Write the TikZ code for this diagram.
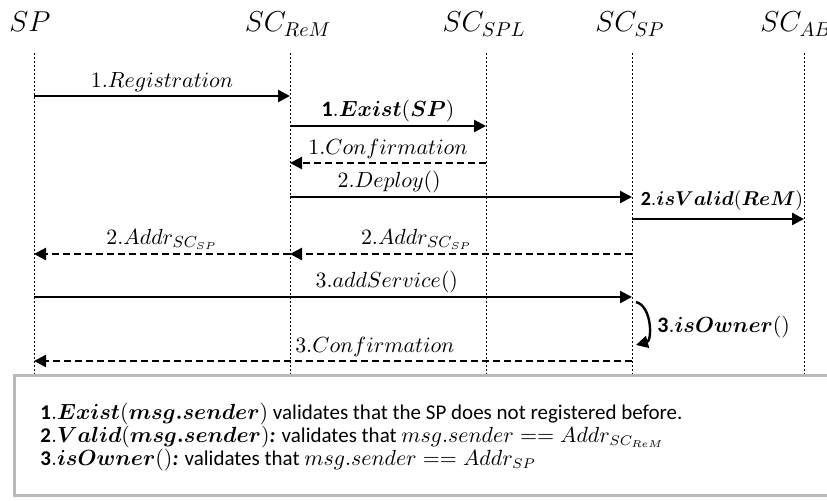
\documentclass[tikz,border=0pt]{standalone}
\usepackage{amsmath}
\usepackage{bm}
\usepackage{fontspec}
\setmainfont{Carlito}
\usetikzlibrary{arrows.meta,positioning}

\begin{document}
\begin{tikzpicture}[x=0.5pt,y=-0.5pt]
\tikzstyle{obj} = [font=\Large, inner sep=1pt]
\tikzstyle{life} = [line width=0.4pt, dash pattern=on 1pt off 1pt]
\tikzstyle{call} = [line width=1.2pt, -{Triangle[length=6pt,width=6pt]}]
\tikzstyle{reply} = [call, dash pattern=on 3.5pt off 2pt]
\tikzstyle{lbl} = [above, inner sep=1.5pt, font=\fontsize{11}{13}\selectfont]
\tikzstyle{rule} = [anchor=west, inner sep=0pt, font=\fontsize{10.5}{12}\selectfont]
\useasboundingbox (0,0) rectangle (827,500);

\node [obj] (sp) at (30,22) {$SP$};
\node [obj] (rem) at (288,24) {$SC_{ReM}$};
\node [obj] (spl) at (484,24) {$SC_{SPL}$};
\node [obj] (ssp) at (630,24) {$SC_{SP}$};
\node [obj] (ab) at (796,24) {$SC_{AB}$};
\coordinate (spl0) at (34,0);
\coordinate (reml) at (290,0);
\coordinate (spll) at (486,0);
\coordinate (sspl) at (632,0);
\coordinate (abl) at (804,0);
\coordinate (top) at (0,53);
\coordinate (bot) at (0,380);
\foreach \o in {spl0,reml,spll,sspl,abl}
  \draw [life] (\o |- top) -- (\o |- bot);

\coordinate (y1) at (0,96);
\coordinate (y2) at (0,126);
\coordinate (y3) at (0,163);
\coordinate (y4) at (0,197);
\coordinate (y5) at (0,219);
\coordinate (y6) at (0,254);
\coordinate (y7) at (0,297);
\coordinate (y8) at (0,345);
\coordinate (y9) at (0,361);

\draw [call] (spl0 |- y1) -- node [lbl] (reg) {$1.Registration$} (reml |- y1);
\draw [call] (reml |- y2) -- node [lbl] (exist) {$\mathbf{1}.\bm{Exist}(\bm{SP})$} (spll |- y2);
\draw [reply] (spll |- y3) -- node [lbl] (conf1) {$1.Confirmation$} (reml |- y3);
\draw [call] (reml |- y4) -- node [lbl, pos=.29] (deploy) {$2.Deploy()$} (sspl |- y4);
\draw [call] (sspl |- y5) -- node [lbl, xshift=2pt, yshift=2pt, font=\fontsize{10}{12}\selectfont] (valid) {$\mathbf{2}.\bm{isValid}(\bm{ReM})$} (abl |- y5);
\draw [reply] (sspl |- y6) -- node [lbl, pos=.63] (addr2) {$2.Addr_{SC_{SP}}$} (reml |- y6);
\draw [reply] (reml |- y6) -- node [lbl] (addr1) {$2.Addr_{SC_{SP}}$} (spl0 |- y6);
\draw [call] (spl0 |- y7) -- node [lbl, pos=.59] (add) {$3.addService()$} (sspl |- y7);
\draw [call] ([xshift=2pt]sspl |- 0,302) to [bend left=75] ([xshift=2pt]sspl |- y8);
\node [lbl, anchor=west] (owner) at ([xshift=11pt]sspl |- 0,327) {$\mathbf{3}.\bm{isOwner}()$};
\draw [reply] (sspl |- y9) -- node [lbl, pos=.43] (conf3) {$3.Confirmation$} (spl0 |- y9);

\draw [gray!55, line width=1.5pt, fill=white] (14,375) rectangle (840,495);
\node [rule] (r1) at (40,414) {$\mathbf{1}.\bm{Exist}(\bm{msg.sender})$ validates that the SP does not registered before.};
\node [rule] (r2) at (40,437) {$\mathbf{2}.\bm{Valid}(\bm{msg.sender})$\textbf{\textit{:}} validates that $msg.sender == Addr_{SC_{ReM}}$};
\node [rule] (r3) at (40,460) {$\mathbf{3}.\bm{isOwner}()$\textbf{\textit{:}} validates that $msg.sender == Addr_{SP}$};
\end{tikzpicture}
\end{document}
